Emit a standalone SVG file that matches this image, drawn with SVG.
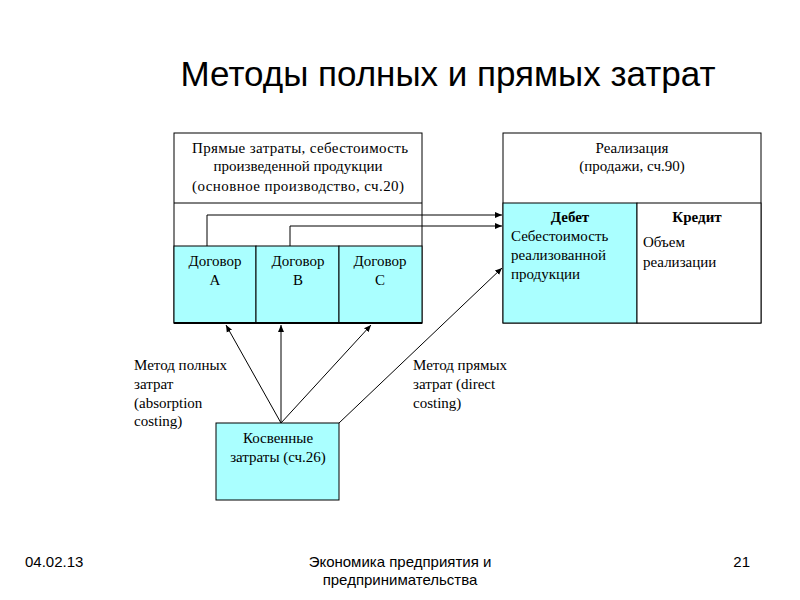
<svg xmlns="http://www.w3.org/2000/svg" width="800" height="600" viewBox="0 0 800 600">
<style>
.t{font-family:"Liberation Serif",serif;font-size:15px;fill:#000}
.s{font-family:"Liberation Sans",sans-serif;fill:#000}
.b{fill:#fff;stroke:#000;stroke-width:1}
.c{fill:#aaffff;stroke:#000;stroke-width:1}
.l{stroke:#000;stroke-width:1;fill:none}
</style>
<defs><marker id="a" markerWidth="8" markerHeight="8" refX="7" refY="4" orient="auto" markerUnits="userSpaceOnUse"><path d="M0,1 L7,4 L0,7 Z" fill="#000"/></marker></defs>
<rect width="800" height="600" fill="#fff"/>
<text class="s" x="448" y="86" font-size="35" text-anchor="middle">Методы полных и прямых затрат</text>
<g id="direct">
<rect class="b" x="174" y="133" width="248" height="190"/>
<line class="l" x1="174" y1="203" x2="422" y2="203"/>
<text class="t" x="300" y="153" text-anchor="middle" textLength="216">Прямые затраты, себестоимость</text>
<text class="t" x="298" y="171" text-anchor="middle">произведенной продукции</text>
<text class="t" x="298" y="191" text-anchor="middle" textLength="212">(основное производство, сч.20)</text>
</g>
<g id="dogA"><rect class="c" x="174" y="246" width="82" height="77"/>
<text class="t" x="215" y="266" text-anchor="middle">Договор</text><text class="t" x="215" y="285" text-anchor="middle">A</text></g>
<g id="dogB"><rect class="c" x="256" y="246" width="83" height="77"/>
<text class="t" x="298" y="266" text-anchor="middle">Договор</text><text class="t" x="298" y="285" text-anchor="middle">B</text></g>
<g id="dogC"><rect class="c" x="339" y="246" width="83" height="77"/>
<text class="t" x="380" y="266" text-anchor="middle">Договор</text><text class="t" x="380" y="285" text-anchor="middle">C</text></g>
<line x1="174" y1="323" x2="422" y2="323" stroke="#000" stroke-width="2"/>
<g id="sales">
<rect class="b" x="503" y="133" width="258" height="190"/>
<text class="t" x="632" y="153" text-anchor="middle">Реализация</text>
<text class="t" x="632" y="171" text-anchor="middle">(продажи, сч.90)</text>
</g>
<g id="debit"><rect class="c" x="503" y="203" width="134" height="120"/>
<text class="t" x="570" y="222" text-anchor="middle" font-weight="bold">Дебет</text>
<text class="t" x="511" y="241">Себестоимость</text>
<text class="t" x="511" y="260">реализованной</text>
<text class="t" x="511" y="279">продукции</text></g>
<g id="credit"><rect class="b" x="637" y="203" width="124" height="120"/>
<text class="t" x="697" y="222" text-anchor="middle" font-weight="bold">Кредит</text>
<text class="t" x="643" y="247">Объем</text>
<text class="t" x="643" y="267">реализации</text></g>
<g id="indirect"><rect class="c" x="216" y="423" width="123" height="77"/>
<text class="t" x="278" y="443" text-anchor="middle">Косвенные</text>
<text class="t" x="278" y="462" text-anchor="middle">затраты (сч.26)</text></g>
<g id="labels">
<text class="t" x="134" y="370">Метод полных</text>
<text class="t" x="134" y="389">затрат</text>
<text class="t" x="134" y="408">(absorption</text>
<text class="t" x="134" y="426">costing)</text>
<text class="t" x="413" y="370">Метод прямых</text>
<text class="t" x="413" y="389">затрат (direct</text>
<text class="t" x="413" y="408">costing)</text>
</g>
<g id="connectors">
<path class="l" d="M207,246 V215 H502" marker-end="url(#a)"/>
<path class="l" d="M290,246 V226 H502" marker-end="url(#a)"/>
<path class="l" d="M281,423 L226,325" marker-end="url(#a)"/>
<path class="l" d="M281,423 L281,325" marker-end="url(#a)"/>
<path class="l" d="M281,423 L371,325" marker-end="url(#a)"/>
<path class="l" d="M339,423 L502,268" marker-end="url(#a)"/>
</g>
<g id="footer">
<text class="s" x="25" y="567" font-size="15">04.02.13</text>
<text class="s" x="400" y="567" font-size="15" text-anchor="middle">Экономика предприятия и</text>
<text class="s" x="400" y="585" font-size="15" text-anchor="middle">предпринимательства</text>
<text class="s" x="750" y="567" font-size="15" text-anchor="end">21</text>
</g>
</svg>
